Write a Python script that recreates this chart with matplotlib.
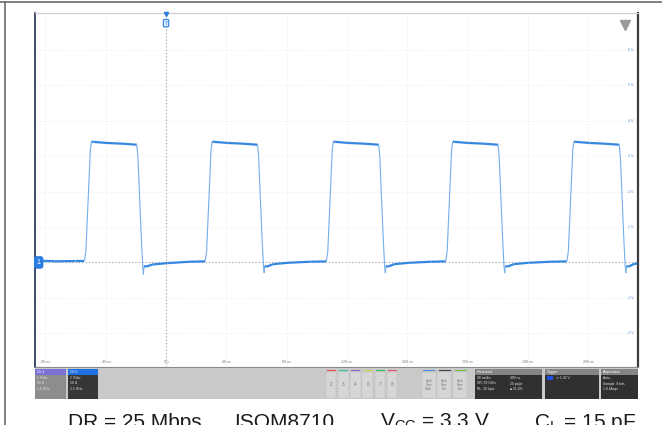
import numpy as np
import matplotlib
matplotlib.use("Agg")
import matplotlib.pyplot as plt
from matplotlib.collections import LineCollection
from matplotlib.lines import Line2D
from matplotlib.patches import Rectangle

plt.rcParams['font.family'] = ['Liberation Sans', 'DejaVu Sans']
plt.rcParams['mathtext.fontset'] = 'custom'
plt.rcParams['mathtext.rm'] = 'Liberation Sans'
plt.rcParams['mathtext.it'] = 'Liberation Sans:italic'

#--- scope trace (ns, V) ---
t_ns = [-87.2, -75.0, -60.0, -54.2,
        -54.2, -53.2, -50.2, -49.4, -48.2, -39.2, -29.2, -19.4, -18.7, -16.2, -15.4, -15.0, -14.6, -13.2, -9.2, 0.8, 15.8,
        25.9, 26.9, 29.9, 30.7, 31.9, 40.9, 50.9, 60.7, 61.4, 63.9, 64.7, 65.1, 65.5, 66.9, 70.9, 80.9, 95.9,
        106.3, 107.3, 110.3, 111.1, 112.3, 121.3, 131.3, 141.1, 141.8, 144.3, 145.1, 145.5, 145.9, 147.3, 151.3, 161.3, 176.3,
        185.5, 186.5, 189.5, 190.3, 191.5, 200.5, 210.5, 220.3, 221.0, 223.5, 224.3, 224.7, 225.1, 226.5, 230.5, 240.5, 255.5,
        265.9, 266.9, 269.9, 270.7, 271.9, 280.9, 290.9, 300.7, 301.4, 303.9, 304.7, 305.1, 305.5, 306.9, 310.0, 312.8]
v_volt = [0.03, 0.03, 0.04, 0.04,
          0.04, 0.30, 3.20, 3.41, 3.40, 3.37, 3.35, 3.32, 3.00, 0.50, -0.15, -0.34, -0.10, -0.12, -0.06, -0.02, 0.02,
          0.03, 0.30, 3.20, 3.41, 3.40, 3.37, 3.35, 3.32, 3.00, 0.50, -0.15, -0.30, -0.10, -0.12, -0.05, -0.01, 0.02,
          0.03, 0.30, 3.20, 3.41, 3.40, 3.37, 3.35, 3.32, 3.00, 0.50, -0.15, -0.30, -0.10, -0.12, -0.05, -0.01, 0.02,
          0.03, 0.30, 3.20, 3.41, 3.40, 3.37, 3.35, 3.32, 3.00, 0.50, -0.15, -0.30, -0.10, -0.12, -0.05, -0.01, 0.02,
          0.03, 0.30, 3.20, 3.41, 3.40, 3.37, 3.35, 3.32, 3.00, 0.50, -0.15, -0.30, -0.10, -0.12, -0.05, -0.03]

x_ticks = [-80, -40, 0, 40, 80, 120, 160, 200, 240, 280]
x_labels = ["-80 ns", "-40 ns", "0 s", "40 ns", "80 ns", "120 ns", "160 ns", "200 ns", "240 ns", "280 ns"]
y_ticks = [-2, -1, 0, 1, 2, 3, 4, 5, 6, 7]
y_labels = {6: "6 V", 5: "5 V", 4: "4 V", 3: "3 V", 2: "2 V", 1: "1 V", -1: "-1 V", -2: "-2 V"}

caption = ["DR = 25 Mbps", "ISOM8710", r"V$_{\mathrm{CC}}$ = 3.3 V", r"C$_{\mathrm{L}}$ = 15 pF"]
caption_x = [67.5, 234, 380, 534]

W, H = 662, 425
fig = plt.figure(figsize=(W/100, H/100), dpi=100)
fig.patch.set_facecolor("white")

#-- waveform screen
ax = fig.add_axes((34.6/W, 1-367/H, (637.5-34.6)/W, (367-12.5)/H))
ax.set_xlim(-87.2, 312.8)
ax.set_ylim(-2.95, 7.05)
ax.set_xticks(x_ticks)
ax.set_yticks(y_ticks)
ax.tick_params(length=0, labelbottom=False, labelleft=False)
ax.grid(True, color="#e6e6e6", linestyle=(0, (1, 2)), linewidth=0.6)
ax.axvline(0, color="#a0a0a0", linestyle=(0, (1, 2)), linewidth=0.8)
ax.axhline(0, color="#a0a0a0", linestyle=(0, (1, 2)), linewidth=0.8)
ax.spines['left'].set_color("#1d2f55")
ax.spines['left'].set_linewidth(1.2)
ax.spines['right'].set_color("#3c3c3c")
ax.spines['right'].set_linewidth(1.6)
ax.spines['top'].set_color("#cfcfcf")
ax.spines['bottom'].set_color("#8a8a8a")

# thick flat parts, thin fast edges
pts = np.column_stack([t_ns, v_volt])
segs = np.stack([pts[:-1], pts[1:]], axis=1)
slope = np.abs(np.diff(v_volt)) / np.maximum(np.diff(t_ns), 1e-6)
lws = np.where(slope > 0.25, 0.8, 1.6)
cols = [(0.45, 0.68, 0.93, 1.0) if s > 0.25 else (0.20, 0.53, 0.88, 1.0) for s in slope]
ax.add_collection(LineCollection(segs, linewidths=lws, colors=cols, zorder=3))

for xt, lab in zip(x_ticks, x_labels):
    ax.text(xt, -2.82, lab, fontsize=2.6, color="#777777", ha="center", va="center")
for yt, lab in y_labels.items():
    ax.text(0.988, yt, lab, fontsize=2.6, color="#4f8fd8", ha="center", va="center",
            transform=ax.get_yaxis_transform())

# channel / trigger markers
ax.text(-84.5, 0, "1", fontsize=5, color="white", ha="center", va="center", zorder=5,
        bbox=dict(boxstyle="round,pad=0.3", fc="#2a7de1", ec="#2a7de1"), clip_on=False)
ax.text(0, 6.75, "T", fontsize=3.5, color="#2a7de1", ha="center", va="center", zorder=5,
        bbox=dict(boxstyle="round,pad=0.25", fc="#dbe9fb", ec="#2a7de1", lw=0.8), clip_on=False)
ax.plot([0], [7.02], marker="v", ms=3, color="#2a7de1", clip_on=False, zorder=5)
ax.plot([0.98], [0.965], marker="v", ms=7, color="#9a9a9a", transform=ax.transAxes, zorder=5)

#-- status bar (pixel coordinates)
sb = fig.add_axes((34.6/W, 1-399/H, (638-34.6)/W, 31/H))
sb.set_xlim(34.6, 638)
sb.set_ylim(399, 368)
sb.axis("off")
sb.add_patch(Rectangle((34.6, 368), 603.4, 31, fc="#c9c9c9", ec="none"))

def box(x0, x1, head, body, head_txt, lines, txtcol="white"):
    sb.add_patch(Rectangle((x0, 369), x1-x0, 5.5, fc=head, ec="none"))
    sb.add_patch(Rectangle((x0, 374.5), x1-x0, 24, fc=body, ec="none"))
    sb.text(x0+2, 371.8, head_txt, fontsize=2.6, color=txtcol, va="center")
    for i, ln in enumerate(lines):
        sb.text(x0+2, 378 + i*5.5, ln, fontsize=2.4, color="#e6e6e6", va="center")

box(34.6, 66, "#7b72d8", "#8d8d8d", "Ch 1", ["1 V/div", "50 \u03a9", "2.5 GHz"])
box(68, 98, "#1f70e0", "#363636", "Ch 5", ["1 V/div", "50 \u03a9", "2.5 GHz"])
box(475, 542, "#858585", "#303030", "Horizontal", ["40 ns/div", "SR: 50 GS/s", "RL: 20 kpts"])
sb.text(510, 378, "400 ns", fontsize=2.4, color="#e6e6e6", va="center")
sb.text(510, 383.5, "20 ps/pt", fontsize=2.4, color="#e6e6e6", va="center")
sb.text(510, 389, "\u25a0 21.8%", fontsize=2.4, color="#e6e6e6", va="center")
box(545, 599, "#858585", "#303030", "Trigger", [])
sb.add_patch(Rectangle((547, 376), 6, 3.5, fc="#1f4fe0", ec="none"))
sb.text(556, 378, "\u2197 1.32 V", fontsize=2.4, color="#e6e6e6", va="center")
box(601, 638, "#858585", "#303030", "Acquisition", ["Auto,", "Sample: 8 bits", "1.8 kAcqs"])

btn_labels = ["2", "3", "4", "6", "7", "8"]
btn_colors = ["#e2504f", "#3bbfa0", "#8a63d2", "#d6d23c", "#3fba5a", "#e2506a"]
for i, (lab, c) in enumerate(zip(btn_labels, btn_colors)):
    xc = 331 + i*12.2
    sb.add_patch(Rectangle((xc-5.3, 371.5), 10.6, 26, fc="#d6d6d6", ec="#bdbdbd", lw=0.3))
    sb.plot([xc-4, xc+4], [370.3, 370.3], color=c, lw=0.8)
    sb.text(xc, 385, lab, fontsize=3.3, color="#777777", ha="center", va="center")
add_labels = ["Add\nNew\nMath", "Add\nNew\nRef", "Add\nNew\nBus"]
add_colors = ["#4a8fe0", "#444444", "#6fbf3f"]
for i, (lab, c) in enumerate(zip(add_labels, add_colors)):
    xc = 428.5 + i*15.8
    sb.add_patch(Rectangle((xc-7, 371.5), 14, 26, fc="#d6d6d6", ec="#bdbdbd", lw=0.3))
    sb.plot([xc-5.5, xc+5.5], [370.3, 370.3], color=c, lw=0.8)
    sb.text(xc, 385, lab, fontsize=2.3, color="#777777", ha="center", va="center", linespacing=1.1)

#-- outer frame and caption (cut at the lower edge as in the original)
fig.add_artist(Line2D([0, 1], [1-1.5/H, 1-1.5/H], color="#6a6a6a", lw=1.2))
fig.add_artist(Line2D([4.5/W, 4.5/W], [0, 1-1.5/H], color="#6a6a6a", lw=1.2))
for txt, xp in zip(caption, caption_x):
    fig.text(xp/W, (H-428)/H, txt, fontsize=15, color="#1a1a1a", ha="left", va="baseline")

fig.savefig("out.png", dpi=100)
